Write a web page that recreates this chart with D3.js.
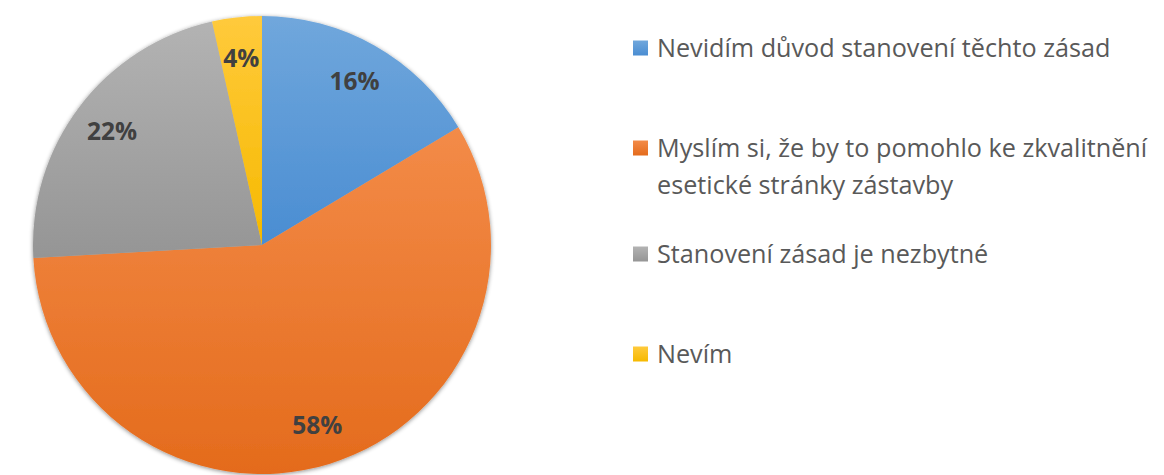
<!DOCTYPE html>
<html><head><meta charset="utf-8">
<script src="https://cdn.jsdelivr.net/npm/d3@7/dist/d3.min.js"></script>
<style>
html,body{margin:0;padding:0;background:#fff;}
svg{display:block;}
</style></head>
<body>
<svg id="chart" width="1164" height="475"></svg>
<script>
const categories = [
  "Nevidím důvod stanovení těchto zásad",
  "Myslím si, že by to pomohlo ke zkvalitnění esetické stránky zástavby",
  "Stanovení zásad je nezbytné",
  "Nevím"
];
const legendLines = [
  ["Nevidím důvod stanovení těchto zásad"],
  ["Myslím si, že by to pomohlo ke zkvalitnění", "esetické stránky zástavby"],
  ["Stanovení zásad je nezbytné"],
  ["Nevím"]
];
const values = [16.4, 57.7, 22.4, 3.5];
const labels = ["16%", "58%", "22%", "4%"];
const colorsTop = ["#70a7dc", "#f38b48", "#b3b3b3", "#ffca3c"];
const colorsBottom = ["#4a8dd2", "#e46b1c", "#959595", "#f6b900"];

const svg = d3.select("#chart");
const cx = 262, cy = 245, R = 229;

const defs = svg.append("defs");
categories.forEach((c, i) => {
  const g = defs.append("linearGradient").attr("id", "grad" + i)
    .attr("x1", 0).attr("y1", 0).attr("x2", 0).attr("y2", 1);
  g.append("stop").attr("offset", "0%").attr("stop-color", colorsTop[i]);
  g.append("stop").attr("offset", "100%").attr("stop-color", colorsBottom[i]);
});
const f = defs.append("filter").attr("id", "shadow")
  .attr("x", "-10%").attr("y", "-10%").attr("width", "120%").attr("height", "120%");
f.append("feDropShadow").attr("dx", 0).attr("dy", 1).attr("stdDeviation", 2.2)
  .attr("flood-color", "#000").attr("flood-opacity", 0.45);

const pie = d3.pie().sort(null).value(d => d);
const arcs = pie(values);
const arc = d3.arc().innerRadius(0).outerRadius(R);
const labelArc = d3.arc().innerRadius(188).outerRadius(188);

const g = svg.append("g").attr("transform", `translate(${cx},${cy})`);
g.append("g").attr("filter", "url(#shadow)")
  .selectAll("path").data(arcs).join("path")
  .attr("d", arc)
  .attr("fill", (d, i) => `url(#grad${i})`);

g.selectAll("text.lbl").data(arcs).join("text")
  .attr("class", "lbl")
  .attr("transform", d => `translate(${labelArc.centroid(d)})`)
  .attr("text-anchor", "middle")
  .attr("dy", "0.36em")
  .attr("font-family", "'Open Sans', sans-serif")
  .attr("font-weight", "bold")
  .attr("font-size", "24.5px")
  .attr("fill", "#404040")
  .text((d, i) => labels[i]);

// legend
const legendY = [48, 148, 254, 354];
const lg = svg.append("g");
legendLines.forEach((lines, i) => {
  const item = lg.append("g").attr("transform", `translate(633,${legendY[i]})`);
  item.append("rect").attr("x", 0).attr("y", -7.5).attr("width", 15).attr("height", 15)
    .attr("fill", `url(#grad${i})`);
  const t = item.append("text")
    .attr("font-family", "'Open Sans', sans-serif")
    .attr("font-size", "25.2px")
    .attr("fill", "#595959");
  lines.forEach((ln, j) => {
    t.append("tspan").attr("x", 24).attr("y", j * 37).attr("dy", "0.36em").text(ln);
  });
});
</script>
</body></html>
